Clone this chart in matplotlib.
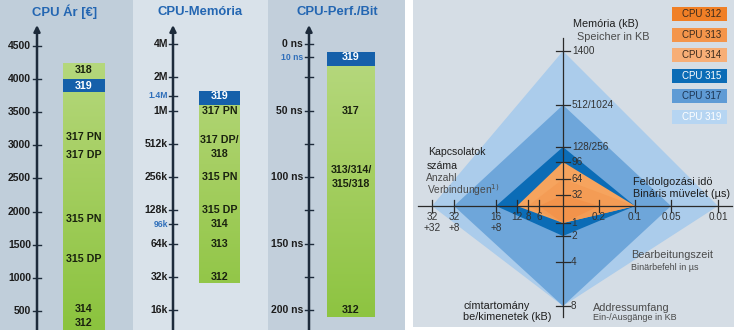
import numpy as np
import matplotlib.pyplot as plt
import matplotlib.transforms as mtransforms
from matplotlib.colors import LinearSegmentedColormap
from matplotlib.patches import Polygon, Rectangle

W, H = 734, 330

SANS = ['Liberation Sans', 'DejaVu Sans']
plt.rcParams['font.family'] = SANS

# price column (EUR, linear)
price_ticks = [500, 1000, 1500, 2000, 2500, 3000, 3500, 4000, 4500]
price_tick_labels = [str(v) for v in price_ticks]
price_bar = (0, 4240)
price_319 = (3800, 4000)
price_names = ['318', '319', '317 PN', '317 DP', '315 PN', '315 DP', '314', '312']
price_values = [4130, 3900, 3120, 2850, 1890, 1290, 540, 320]

# memory column (kB, log2)
mem_ticks = [16, 32, 64, 96, 128, 256, 512, 1024, 1400, 2048, 4096]
mem_tick_labels = ['16k', '32k', '64k', '96k', '128k', '256k', '512k', '1M', '1.4M', '2M', '4M']
mem_bar = (28, 1540)
mem_319 = (1150, 1540)
mem_names = ['319', '317 PN', '317 DP/\n318', '315 PN', '315 DP', '314', '313', '312']
mem_values = [1400, 1024, 480, 256, 128, 96, 64, 32]

# bit performance column (ns, downwards)
perf_ticks = [0, 10, 50, 100, 150, 200]
perf_tick_labels = ['0 ns', '10 ns', '50 ns', '100 ns', '150 ns', '200 ns']
perf_minor = [25, 75, 125, 175]
perf_bar = (6, 205)
perf_319 = (6, 16.5)
perf_names = ['319', '317', '313/314/\n315/318', '312']
perf_values = [10, 50, 100, 200]

highlight = ['1.4M', '96k', '10 ns']

# diamond chart: scale marks (distance from centre) per axis
mem_axis = ['32', '64', '96', '128/256', '512/1024', '1400']
mem_axis_pos = [11, 27, 44, 59, 101, 155]
time_axis = ['0.2', '0.1', '0.05', '0.01']
time_axis_pos = [36, 72, 108, 155]
io_axis = ['1', '2', '4', '8']
io_axis_pos = [17, 30, 56, 100]
conn_axis = ['6', '8', '12', '16\n+8', '32\n+8', '32\n+32']
conn_axis_pos = [24, 35, 46, 67, 109, 131]

cpus = ['CPU 312', 'CPU 313', 'CPU 314', 'CPU 315', 'CPU 317', 'CPU 319']
cpu_mem = ['32', '64', '96', '128/256', '512/1024', '1400']
cpu_time = ['0.2', '0.1', '0.1', '0.1', '0.05', '0.01']
cpu_io = ['1', '1', '1', '2', '8', '8']
cpu_conn = ['6', '8', '12', '16\n+8', '32\n+8', '32\n+32']
fill_colors = ['#f2934b', '#f49c55', '#f6a45e', '#0b6cb6', '#6ea6da', '#abcceb']
legend_colors = ['#f07f26', '#f4954b', '#f7ae76', '#0b6cb6', '#5f9bd5', '#b6d5f2']
legend_text = ['#3b2a1c', '#3b2a1c', '#3b2a1c', 'white', '#1b3452', 'white']

fig = plt.figure(figsize=(W / 100, H / 100), dpi=100)
fig.patch.set_facecolor('white')


def panel_axes(x0, x1, face, y0=0, y1=H):
    ax = fig.add_axes([x0 / W, (H - y1) / H, (x1 - x0) / W, (y1 - y0) / H])
    ax.set_facecolor(face)
    ax.set_xlim(0, x1 - x0)
    for s in ax.spines.values():
        s.set_visible(False)
    ax.set_xticks([])
    ax.set_yticks([])
    return ax


green = LinearSegmentedColormap.from_list('green', ['#8bc33e', '#a6cf63', '#bedd8c'])
gradient = np.linspace(0, 1, 256).reshape(-1, 1)
AXIS_C = '#1d2b3b'


def column(ax, title, title_x, axis_x, tick_right, bar_x, bar_w,
           ticks, tick_labels, minor, bar, band, names, values):
    yx = mtransforms.blended_transform_factory(ax.transData, ax.transAxes)
    ax.text(title_x, 1 - 12 / H, title, transform=yx, ha='center', va='center',
            fontsize=9.4, fontweight='bold', color='#2366b2')
    ax.annotate('', xy=(axis_x, 1 - 25 / H), xycoords=yx,
                xytext=(axis_x, 0), textcoords=yx,
                arrowprops=dict(arrowstyle='-|>', lw=1.8, color=AXIS_C,
                                mutation_scale=9, shrinkA=0, shrinkB=0))
    for v, lab in zip(ticks, tick_labels):
        ax.plot([axis_x - 4, axis_x + 4], [v, v], color=AXIS_C, lw=1)
        hl = lab in highlight
        ax.text(tick_right, v, lab, ha='right', va='center',
                fontsize=6.2 if hl else 7.5, fontweight='bold',
                color='#2f6fba' if hl else '#1c1c1c')
    for v in minor:
        ax.plot([axis_x - 4, axis_x + 4], [v, v], color=AXIS_C, lw=1)

    cx = bar_x + bar_w / 2
    rect = ax.bar(cx, bar[1] - bar[0], bottom=bar[0], width=bar_w,
                  color='none', zorder=1)[0]
    img = ax.imshow(gradient, extent=[0, 1, 0, 1], transform=ax.transAxes,
                    cmap=green, aspect='auto', origin='lower', zorder=1)
    img.set_clip_path(rect)
    ax.bar(cx, band[1] - band[0], bottom=band[0], width=bar_w,
           color='#1560aa', zorder=2)
    for name, v in zip(names, values):
        white = name == '319'
        ax.text(cx, v, name, ha='center', va='center', fontsize=7.7,
                fontweight='bold', color='white' if white else '#1a220f',
                linespacing=1.5, zorder=3)


# price
ax1 = panel_axes(0, 133, '#c0ceda')
column(ax1, 'CPU Ár [€]', 65, 37, 31, 63, 42, price_ticks, price_tick_labels, [],
       price_bar, price_319, price_names, price_values)
ax1.set_ylim(218, 5188)

# memory
ax2 = panel_axes(133, 268, '#d9e2ea')
ax2.set_yscale('log', base=2)
column(ax2, 'CPU-Memória', 67, 40, 35, 66, 41, mem_ticks, mem_tick_labels, [],
       mem_bar, mem_319, mem_names, mem_values)
ax2.set_ylim(10.6, 10230)
ax2.set_yticks([])
ax2.minorticks_off()

# bit performance
ax3 = panel_axes(268, 405, '#c2cfdb')
column(ax3, 'CPU-Perf./Bit', 69, 41, 35, 59, 48, perf_ticks, perf_tick_labels, perf_minor,
       perf_bar, perf_319, perf_names, perf_values)
ax3.set_ylim(214.7, -33)

# diamond chart
axr = panel_axes(413, W, '#d5dde5', 0, 327)
axr.set_xlim(-150, W - 413 - 150)
axr.set_ylim(-121, 206)

mem_at = dict(zip(mem_axis, mem_axis_pos))
time_at = dict(zip(time_axis, time_axis_pos))
io_at = dict(zip(io_axis, io_axis_pos))
conn_at = dict(zip(conn_axis, conn_axis_pos))

for i in reversed(range(len(cpus))):
    verts = [(0, mem_at[cpu_mem[i]]), (time_at[cpu_time[i]], 0),
             (0, -io_at[cpu_io[i]]), (-conn_at[cpu_conn[i]], 0)]
    axr.add_patch(Polygon(verts, closed=True, facecolor=fill_colors[i],
                          edgecolor='none', zorder=2 + (len(cpus) - i)))

LC = '#2a2a2a'
axr.plot([0, 0], [-111, 168], color=LC, lw=0.9, zorder=10)
axr.plot([-145, 169], [0, 0], color=LC, lw=0.9, zorder=10)

TXT = '#333333'
for lab, p in zip(mem_axis, mem_axis_pos):
    axr.plot([-7, 7], [p, p], color=LC, lw=0.9, zorder=10)
    axr.text(9, p, lab, ha='left', va='center', fontsize=7.2, color=TXT, zorder=11)
for lab, p in zip(io_axis, io_axis_pos):
    axr.plot([-7, 7], [-p, -p], color=LC, lw=0.9, zorder=10)
    axr.text(8, -p, lab, ha='left', va='center', fontsize=7.2, color=TXT, zorder=11)
for lab, p in zip(conn_axis, conn_axis_pos):
    axr.plot([-p, -p], [-6, 6], color=LC, lw=0.9, zorder=10)
    axr.text(-p, -6, lab, ha='center', va='top', fontsize=7.2, color=TXT,
             linespacing=1.1, zorder=11)
for lab, p in zip(time_axis, time_axis_pos):
    axr.plot([p, p], [-6, 6], color=LC, lw=0.9, zorder=10)
    axr.text(p, -6, lab, ha='center', va='top', fontsize=7.2, color=TXT, zorder=11)

HU = '#1e1e1e'
DE = '#4a4a4a'
labels = [
    (10, 182, 'Memória (kB)', 7.8, HU),
    (14, 169, 'Speicher in KB', 7.8, DE),
    (-135, 54, 'Kapcsolatok', 7.6, HU),
    (-136, 40, 'száma', 7.6, HU),
    (-137, 28, 'Anzahl', 7.4, DE),
    (-136, 16, 'Verbindungen$^{1)}$', 7.4, DE),
    (70, 24, 'Feldolgozási idö', 7.8, HU),
    (70, 12, 'Bináris müvelet (µs)', 7.8, HU),
    (68, -49, 'Bearbeitungszeit', 7.8, DE),
    (68, -61, 'Binärbefehl in µs', 6.5, DE),
    (-100, -100, 'címtartomány', 7.8, HU),
    (-100, -111, 'be/kimenetek (kB)', 7.8, HU),
    (30, -102, 'Addressumfang', 7.8, DE),
    (30, -112, 'Ein-/Ausgänge in KB', 6.5, DE),
]
for x, y, s, fs, c in labels:
    axr.text(x, y, s, fontsize=fs, color=c, va='center', zorder=11)

# legend boxes, top right
for i, name in enumerate(cpus):
    yc = 192 - i * 20.6
    axr.add_patch(Rectangle((109, yc - 7), 55, 14, facecolor=legend_colors[i],
                            edgecolor='none', zorder=12))
    axr.text(139, yc, name, ha='center', va='center', fontsize=7,
             color=legend_text[i], zorder=13)

fig.savefig('out.png', dpi=100, facecolor='white')
